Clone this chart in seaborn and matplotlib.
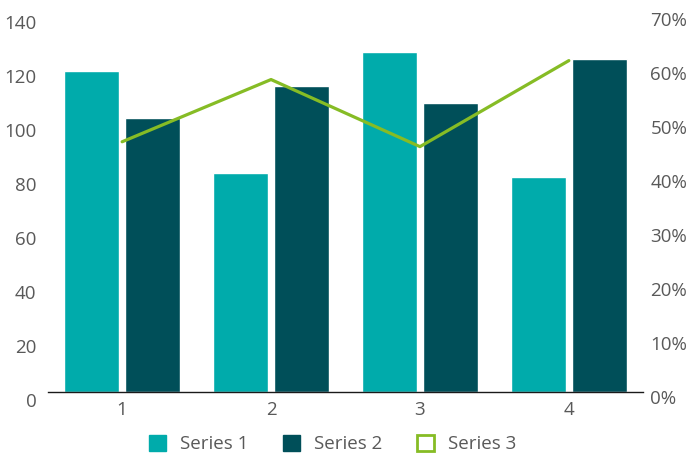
import matplotlib
matplotlib.use("Agg")
import matplotlib.pyplot as plt
from matplotlib.patches import Patch
from matplotlib.ticker import FuncFormatter
from matplotlib.transforms import ScaledTranslation
import seaborn as sns
import pandas as pd

categories = ["1", "2", "3", "4"]
series1 = [118.6, 80.9, 125.6, 79.4]
series2 = [101.2, 113.0, 106.7, 123.0]
series3 = [0.462, 0.577, 0.453, 0.612]
left_ticks = [0, 20, 40, 60, 80, 100, 120, 140]
right_ticks = [0, 0.1, 0.2, 0.3, 0.4, 0.5, 0.6, 0.7]

c1 = "#00ABAB"
c2 = "#004F59"
c3 = "#86BC25"
txt = "#595959"

sns.set_theme(style="white")
plt.rcParams["font.family"] = ["Open Sans", "DejaVu Sans"]

df = pd.DataFrame({
    "cat": categories * 2,
    "value": series1 + series2,
    "series": ["Series 1"] * 4 + ["Series 2"] * 4,
})

fig = plt.figure(figsize=(6.89, 4.55), dpi=100)
bottom = 1 - 391.7 / 455
top = 1 - 13 / 455
ax = fig.add_axes([0.0692, bottom, 0.8645, top - bottom])

sns.barplot(data=df, x="cat", y="value", hue="series", order=categories,
            palette=[c1, c2], width=0.818, gap=0.103, ax=ax, legend=False,
            saturation=1)
ax.set_ylim(0, 140)
ax.set_yticks(left_ticks)
ax.set_xlim(-0.5, 3.5)
ax.set_xlabel("")
ax.set_ylabel("")
for s in ["top", "right", "left"]:
    ax.spines[s].set_visible(False)
ax.spines["bottom"].set_color("#1a1a1a")
ax.spines["bottom"].set_linewidth(1.0)
ax.tick_params(axis="y", length=0, pad=8, labelsize=13.5, labelcolor=txt)
ax.tick_params(axis="x", length=0, pad=7, labelsize=13.5, labelcolor=txt)

ax2 = ax.twinx()
sns.lineplot(x=list(range(len(categories))), y=series3, color=c3, linewidth=2.3,
             ax=ax2, legend=False)
ax2.set_ylim(0, 0.7)
ax2.set_yticks(right_ticks)
ax2.yaxis.set_major_formatter(FuncFormatter(lambda v, p: f"{v*100:.0f}%"))
ax2.set_xlim(-0.5, 3.5)
for s in ["top", "right", "left", "bottom"]:
    ax2.spines[s].set_visible(False)
ax2.tick_params(axis="y", length=0, pad=5, labelsize=13.5, labelcolor=txt)
ax2.set_ylabel("")

# tick labels in the reference sit slightly below their gridline positions
off_l = ScaledTranslation(0, -0.085, fig.dpi_scale_trans)
off_r = ScaledTranslation(0, -0.055, fig.dpi_scale_trans)
for t in ax.yaxis.get_major_ticks():
    t.label1.set_transform(t.label1.get_transform() + off_l)
for t in ax2.yaxis.get_major_ticks():
    t.label2.set_transform(t.label2.get_transform() + off_r)

handles = [
    Patch(facecolor=c1, edgecolor=c1, label="Series 1"),
    Patch(facecolor=c2, edgecolor=c2, label="Series 2"),
    Patch(facecolor="white", edgecolor=c3, linewidth=2, label="Series 3"),
]
leg = fig.legend(handles=handles, loc="center", bbox_to_anchor=(0.483, 0.024),
                 ncol=3, frameon=False, fontsize=13.5, handlelength=0.9,
                 handleheight=0.9, handletextpad=0.75, columnspacing=1.85)
for t in leg.get_texts():
    t.set_color(txt)

fig.savefig("out.png", dpi=100)
